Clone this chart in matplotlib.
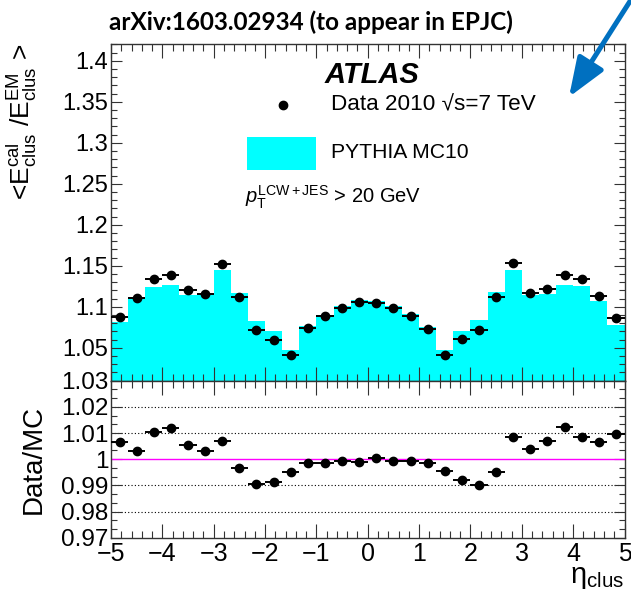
import numpy as np
import matplotlib
matplotlib.use("Agg")
import matplotlib.pyplot as plt
from matplotlib.ticker import MultipleLocator, AutoMinorLocator, FixedLocator

plt.rcParams['font.family'] = ['Liberation Sans', 'DejaVu Sans']
plt.rcParams['mathtext.fontset'] = 'custom'
plt.rcParams['mathtext.rm'] = 'Liberation Sans'
plt.rcParams['mathtext.it'] = 'Liberation Sans:italic'

# 30 eta bins from -5 to 5
eta_edges = np.linspace(-5, 5, 31)

data_response = [1.0878, 1.1110, 1.1340, 1.1390, 1.1207, 1.1162, 1.1524, 1.1117, 1.0715, 1.0601,
                 1.0415, 1.0744, 1.0886, 1.0983, 1.1061, 1.1049, 1.0991, 1.0886, 1.0735, 1.0410,
                 1.0613, 1.0723, 1.1117, 1.1537, 1.1171, 1.1223, 1.1394, 1.1341, 1.1134, 1.0870]

mc_response = [1.0817, 1.1098, 1.1239, 1.1264, 1.1150, 1.1140, 1.1455, 1.1166, 1.0825, 1.0711,
               1.0479, 1.0772, 1.0902, 1.1007, 1.1080, 1.1068, 1.1007, 1.0914, 1.0756, 1.0471,
               1.0711, 1.0837, 1.1178, 1.1447, 1.1142, 1.1159, 1.1268, 1.1251, 1.1073, 1.0776]

ratio = [1.0067, 1.0032, 1.0104, 1.0119, 1.0054, 1.0032, 1.0068, 0.9967, 0.9905, 0.9914,
         0.9951, 0.9986, 0.9986, 0.9994, 0.9991, 1.0006, 0.9994, 0.9994, 0.9986, 0.9953,
         0.9922, 0.9900, 0.9951, 1.0086, 1.0038, 1.0069, 1.0123, 1.0086, 1.0065, 1.0097]

top_yticks = [1.05, 1.1, 1.15, 1.2, 1.25, 1.3, 1.35, 1.4]
top_ylabels = ['1.05', '1.1', '1.15', '1.2', '1.25', '1.3', '1.35', '1.4']
ratio_yticks = [0.97, 0.98, 0.99, 1.0, 1.01, 1.02, 1.03]
ratio_ylabels = ['0.97', '0.98', '0.99', '1', '1.01', '1.02', '1.03']
ratio_gridlines = [0.98, 0.99, 1.01, 1.02]
xticks = [-5, -4, -3, -2, -1, 0, 1, 2, 3, 4, 5]

centers = 0.5 * (eta_edges[:-1] + eta_edges[1:])
half_width = 0.5 * (eta_edges[1] - eta_edges[0])

W, H = 631, 603
fig = plt.figure(figsize=(W / 100, H / 100), dpi=100)

def fx(px):
    return px / W

def fy(py):
    return 1 - py / H

left, right = 111, 624.5
ax = fig.add_axes([fx(left), fy(380.7), fx(right - left), (380.7 - 44.3) / H])
axr = fig.add_axes([fx(left), fy(537.7), fx(right - left), (537.7 - 380.7) / H])

frame_col = '#333333'
for a in (ax, axr):
    for s in a.spines.values():
        s.set_linewidth(1.0)
        s.set_color(frame_col)
    a.set_xlim(-5, 5)
    a.xaxis.set_major_locator(FixedLocator(xticks))
    a.xaxis.set_minor_locator(MultipleLocator(0.2))
    a.tick_params(which='both', direction='in', top=True, right=True,
                  width=0.8, color=frame_col)
    a.tick_params(axis='x', which='major', length=10)
    a.tick_params(axis='x', which='minor', length=5)
    a.tick_params(axis='y', which='major', length=8)
    a.tick_params(axis='y', which='minor', length=4)

# upper panel: MC histogram and data
ax.stairs(mc_response, eta_edges, baseline=0.9, fill=True, color='#00ffff', lw=0, zorder=1)
ax.errorbar(centers, data_response, xerr=half_width, fmt='o', color='black',
            ms=6, elinewidth=1.4, capsize=0, zorder=3)
ax.set_ylim(1.01, 1.42)
ax.set_yticks(top_yticks)
ax.set_yticklabels(top_ylabels)
ax.yaxis.set_minor_locator(MultipleLocator(0.01))
ax.tick_params(axis='x', labelbottom=False)
ax.tick_params(axis='y', labelsize=17, pad=2)
ax.set_ylabel(r'<E$_{\rm clus}^{\rm cal}$ /E$_{\rm clus}^{\rm EM}$ >', fontsize=19,
              loc='top')
ax.yaxis.set_label_coords(-0.14, 1.0)

# legend block
ax.text(0.08, 1.3826, 'ATLAS', fontsize=21, fontweight='bold', fontstyle='italic',
        ha='center', va='center')
ax.plot([-1.65], [1.346], 'o', color='black', ms=6)
ax.text(-0.72, 1.346, 'Data 2010 \u221as=7 TeV', fontsize=16.2, va='center', ha='left')
ax.add_patch(plt.Rectangle((-2.35, 1.2666), 1.35, 0.0404, color='#00ffff', lw=0))
ax.text(-0.72, 1.2887, 'PYTHIA MC10', fontsize=15.2, va='center', ha='left')
ax.text(-2.39, 1.233, r'$p_{\rm T}^{\rm LCW+JES}$ > 20 GeV', fontsize=14.5,
        va='center', ha='left')

# lower panel: ratio
for g in ratio_gridlines:
    axr.axhline(g, color='black', lw=0.8, ls=(0, (1, 2)), zorder=1)
axr.axhline(1.0, color='#ff00ff', lw=1.0, zorder=2)
axr.errorbar(centers, ratio, xerr=half_width, fmt='o', color='black',
             ms=6, elinewidth=1.4, capsize=0, zorder=3)
axr.set_ylim(0.97, 1.03)
axr.set_yticks(ratio_yticks)
axr.set_yticklabels(ratio_ylabels)
axr.yaxis.set_minor_locator(AutoMinorLocator(3))
axr.tick_params(axis='y', labelsize=17.5, pad=2)
axr.tick_params(axis='x', labelsize=18, pad=3)
axr.set_ylabel('Data/MC', fontsize=20)
axr.yaxis.set_label_coords(-0.125, 0.5)
axr.set_xlabel('\u03b7$_{\\rm clus}$', fontsize=21, loc='right', labelpad=-2)

# title and pointer arrow
fig.text(fx(311), fy(22), 'arXiv:1603.02934 (to appear in EPJC)', fontsize=17.5,
         fontweight='bold', family=['Lato', 'DejaVu Sans'], ha='center', va='center')
fig.add_artist(matplotlib.patches.FancyArrowPatch(
    (634, 608), (569, 506), transform=None,
    arrowstyle='-|>,head_length=1.7,head_width=0.65', mutation_scale=14,
    lw=3.6, color='#0070c0', shrinkA=0, shrinkB=0))

fig.savefig('out.png', dpi=100)
